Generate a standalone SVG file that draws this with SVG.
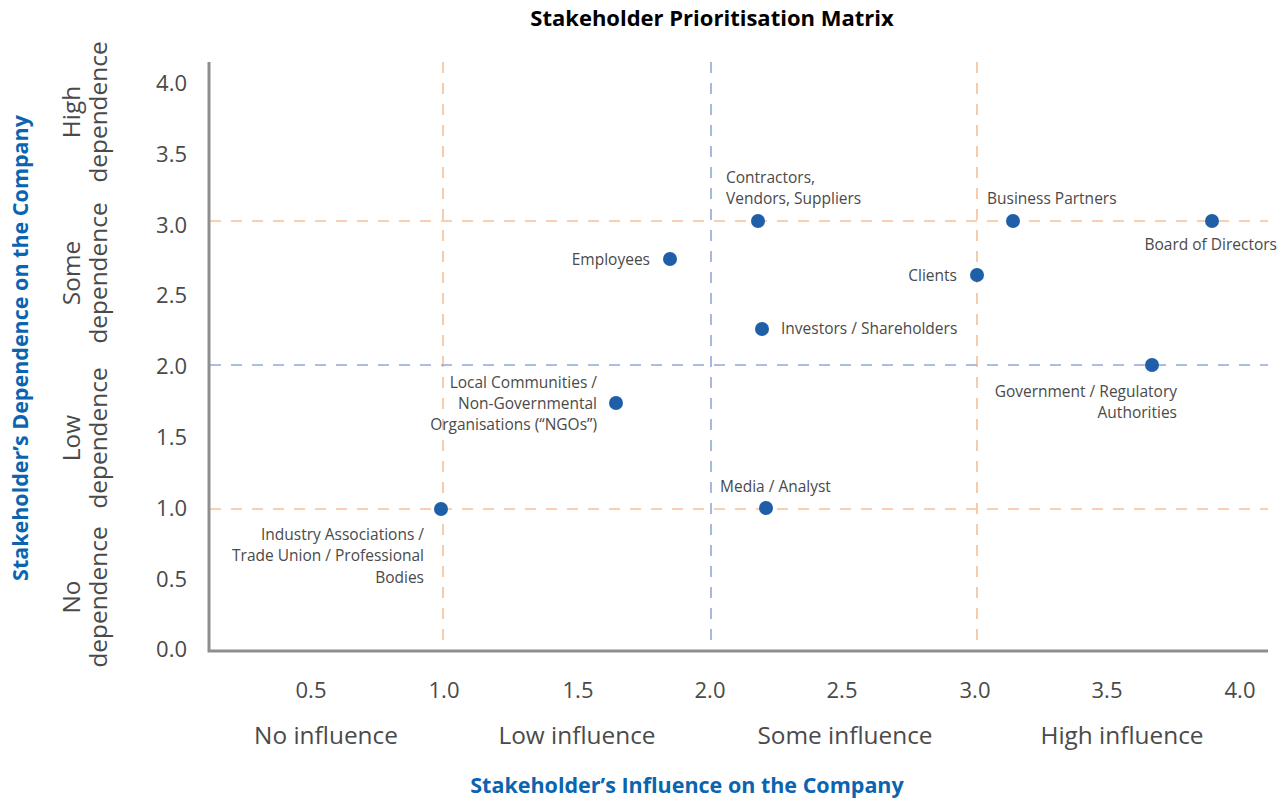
<svg xmlns="http://www.w3.org/2000/svg" width="1287" height="799" viewBox="0 0 1287 799">
<style>
text{font-family:"Open Sans","Noto Sans","Liberation Sans",sans-serif;fill:#4a4a4a}
.title{font-size:22px;font-weight:bold;fill:#000}
.axtitle{font-size:21.5px;font-weight:bold;fill:#0a64b0}
.tick{font-size:22px}
.cat{font-size:24.4px}
.lbl{font-size:15.5px}
.dot{fill:#1f5fa8}
.or{stroke:#f7bf98;stroke-width:1.6;stroke-dasharray:11 10;fill:none}
.pu{stroke:#93a7da;stroke-width:1.6;stroke-dasharray:11 10;fill:none}
.ax{stroke:#8e8e90;stroke-width:3;fill:none}
</style>
<rect width="1287" height="799" fill="#fff"/>
<text class="title" x="712" y="26" text-anchor="middle">Stakeholder Prioritisation Matrix</text>

<g id="gridlines">
<line class="or" x1="443" y1="62" x2="443" y2="650"/>
<line class="pu" x1="711" y1="62" x2="711" y2="650"/>
<line class="or" x1="977" y1="62" x2="977" y2="650"/>
<line class="or" x1="210" y1="221" x2="1268" y2="221"/>
<line class="pu" x1="210" y1="365" x2="1268" y2="365"/>
<line class="or" x1="210" y1="509" x2="1268" y2="509"/>
</g>

<g id="axes">
<polyline class="ax" points="209,62 209,651 1268,651"/>
</g>

<g id="y-ticks" text-anchor="end">
<text class="tick" x="187" y="91">4.0</text>
<text class="tick" x="187" y="162">3.5</text>
<text class="tick" x="187" y="233">3.0</text>
<text class="tick" x="187" y="303">2.5</text>
<text class="tick" x="187" y="374">2.0</text>
<text class="tick" x="187" y="445">1.5</text>
<text class="tick" x="187" y="516">1.0</text>
<text class="tick" x="187" y="587">0.5</text>
<text class="tick" x="187" y="657">0.0</text>
</g>

<g id="x-ticks" text-anchor="middle">
<text class="tick" x="311" y="698">0.5</text>
<text class="tick" x="444" y="698">1.0</text>
<text class="tick" x="578" y="698">1.5</text>
<text class="tick" x="710" y="698">2.0</text>
<text class="tick" x="842" y="698">2.5</text>
<text class="tick" x="975" y="698">3.0</text>
<text class="tick" x="1107" y="698">3.5</text>
<text class="tick" x="1240" y="698">4.0</text>
</g>

<g id="x-categories" text-anchor="middle">
<text class="cat" x="326" y="744">No influence</text>
<text class="cat" x="577" y="744">Low influence</text>
<text class="cat" x="845" y="744">Some influence</text>
<text class="cat" x="1122" y="744">High influence</text>
</g>

<g id="y-categories" text-anchor="middle">
<g transform="translate(80,112) rotate(-90)"><text class="cat" x="0" y="0">High</text><text class="cat" x="0" y="27">dependence</text></g>
<g transform="translate(80,273) rotate(-90)"><text class="cat" x="0" y="0">Some</text><text class="cat" x="0" y="27">dependence</text></g>
<g transform="translate(80,438) rotate(-90)"><text class="cat" x="0" y="0">Low</text><text class="cat" x="0" y="27">dependence</text></g>
<g transform="translate(80,597) rotate(-90)"><text class="cat" x="0" y="0">No</text><text class="cat" x="0" y="27">dependence</text></g>
</g>

<text class="axtitle" x="687" y="793" text-anchor="middle">Stakeholder’s Influence on the Company</text>
<text class="axtitle" transform="translate(28,348) rotate(-90)" x="0" y="0" text-anchor="middle">Stakeholder’s Dependence on the Company</text>

<g id="node-industry"><circle class="dot" cx="441" cy="509" r="7"/>
<text class="lbl" text-anchor="end"><tspan x="424" y="540">Industry Associations /</tspan><tspan x="424" y="561">Trade Union / Professional</tspan><tspan x="424" y="583">Bodies</tspan></text></g>

<g id="node-ngo"><circle class="dot" cx="616" cy="403" r="7"/>
<text class="lbl" text-anchor="end"><tspan x="597" y="388">Local Communities /</tspan><tspan x="597" y="409">Non-Governmental</tspan><tspan x="597" y="430">Organisations (“NGOs”)</tspan></text></g>

<g id="node-media"><circle class="dot" cx="766" cy="508" r="7"/>
<text class="lbl" x="720" y="492">Media / Analyst</text></g>

<g id="node-contractors"><circle class="dot" cx="758" cy="221" r="7"/>
<text class="lbl"><tspan x="726" y="183">Contractors,</tspan><tspan x="726" y="204">Vendors, Suppliers</tspan></text></g>

<g id="node-employees"><circle class="dot" cx="670" cy="259" r="7"/>
<text class="lbl" x="650" y="265" text-anchor="end">Employees</text></g>

<g id="node-clients"><circle class="dot" cx="977" cy="275" r="7"/>
<text class="lbl" x="957" y="281" text-anchor="end">Clients</text></g>

<g id="node-investors"><circle class="dot" cx="762" cy="329" r="7"/>
<text class="lbl" x="781" y="334">Investors / Shareholders</text></g>

<g id="node-partners"><circle class="dot" cx="1013" cy="221" r="7"/>
<text class="lbl" x="987" y="204">Business Partners</text></g>

<g id="node-board"><circle class="dot" cx="1212" cy="221" r="7"/>
<text class="lbl" x="1277" y="250" text-anchor="end">Board of Directors</text></g>

<g id="node-government"><circle class="dot" cx="1152" cy="365" r="7"/>
<text class="lbl" text-anchor="end"><tspan x="1177" y="397">Government / Regulatory</tspan><tspan x="1177" y="418">Authorities</tspan></text></g>
</svg>
